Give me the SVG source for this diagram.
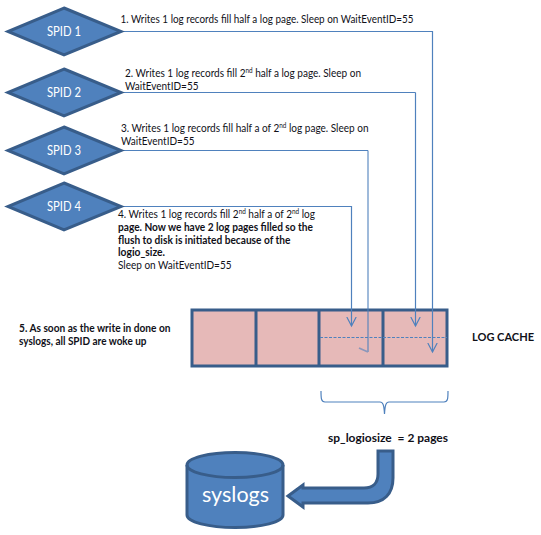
<svg xmlns="http://www.w3.org/2000/svg" width="541" height="535" viewBox="0 0 541 535">
<defs>
<style>
text{font-family:Lato,"Liberation Sans",sans-serif;font-size:11px;fill:#101018}
.b{font-weight:bold}
.d{fill:#4f81bd;stroke:#385d8a;stroke-width:3}
.n{fill:#fff;font-size:12.5px}
.c{fill:none;stroke:#4f81bd;stroke-width:1.200}
.p{fill:#e6b9b8;stroke:#385d8a;stroke-width:3}
.s{font-size:7px}
</style>
<marker id="a" markerWidth="12" markerHeight="12" refX="9" refY="5" orient="auto" markerUnits="userSpaceOnUse"><path d="M0 .3L9 5L0 9.700" fill="none" stroke="#4f81bd" stroke-width="1.200"/></marker>
</defs>
<rect width="541" height="535" fill="#fff"/>
<g id="log-cache">
<rect class="p" x="192" y="310" width="255" height="56"/>
<path d="M256 310V366M319 310V366M383 310V366" fill="none" stroke="#385d8a" stroke-width="3"/>
<path d="M320 337.500H447" fill="none" stroke="#4f81bd" stroke-width="1" stroke-dasharray="3 1.500"/>
</g>
<g id="connectors">
<path class="c" d="M121 31.500H432.500V352" marker-end="url(#a)"/>
<path class="c" d="M121 92.500H415.500" /><path class="c" d="M415.500 92.500V326" marker-end="url(#a)"/>
<path class="c" d="M121 150.500H368"/>
<path class="c" d="M368 150.500V352M359 348L368 352" style="stroke-width:1.800;stroke-opacity:.6"/>
<path class="c" d="M121 206.500H351.500V326" marker-end="url(#a)"/>
</g>
<g id="spid1"><polygon class="d" points="64,8 121,31.500 64,55 8,31.500"/><text class="n" x="47" y="35.500" textLength="34" lengthAdjust="spacingAndGlyphs">SPID 1</text></g>
<g id="spid2"><polygon class="d" points="64,69 121,92.500 64,116 8,92.500"/><text class="n" x="47" y="96.500" textLength="34" lengthAdjust="spacingAndGlyphs">SPID 2</text></g>
<g id="spid3"><polygon class="d" points="64,127 121,150.500 64,174 8,150.500"/><text class="n" x="47" y="154.500" textLength="34" lengthAdjust="spacingAndGlyphs">SPID 3</text></g>
<g id="spid4"><polygon class="d" points="64,183 121,206.500 64,230 8,206.500"/><text class="n" x="47" y="210.500" textLength="34" lengthAdjust="spacingAndGlyphs">SPID 4</text></g>
<g id="labels">
<text x="120.500" y="23" textLength="293" lengthAdjust="spacingAndGlyphs">1. Writes 1 log records fill half a log page. Sleep on WaitEventID=55</text>
<text x="125" y="76.500" textLength="236" lengthAdjust="spacingAndGlyphs">2. Writes 1 log records fill 2<tspan class="s" dy="-3.500">nd</tspan><tspan dy="3.500"> half a log page. Sleep on</tspan></text>
<text x="125" y="89.500" textLength="73.500" lengthAdjust="spacingAndGlyphs">WaitEventID=55</text>
<text x="121" y="131.500" textLength="247.500" lengthAdjust="spacingAndGlyphs">3. Writes 1 log records fill half a of 2<tspan class="s" dy="-3.500">nd</tspan><tspan dy="3.500"> log page. Sleep on</tspan></text>
<text x="121" y="144.500" textLength="73.500" lengthAdjust="spacingAndGlyphs">WaitEventID=55</text>
<text x="118" y="217.500" textLength="197" lengthAdjust="spacingAndGlyphs">4. Writes 1 log records fill 2<tspan class="s" dy="-3.500">nd</tspan><tspan dy="3.500"> half a of 2</tspan><tspan class="s" dy="-3.500">nd</tspan><tspan dy="3.500"> log</tspan></text>
<text x="118" y="230.500" class="b" textLength="195" lengthAdjust="spacingAndGlyphs">page. Now we have 2 log pages filled so the</text>
<text x="118" y="243.500" class="b" textLength="172.500" lengthAdjust="spacingAndGlyphs">flush to disk is initiated because of the</text>
<text x="118" y="255.500" class="b" textLength="47" lengthAdjust="spacingAndGlyphs">logio_size.</text>
<text x="118" y="268.500" textLength="113.500" lengthAdjust="spacingAndGlyphs">Sleep on WaitEventID=55</text>
<text x="19" y="332" class="b" textLength="151.500" lengthAdjust="spacingAndGlyphs">5. As soon as the write in done on</text>
<text x="19" y="345" class="b" textLength="127.500" lengthAdjust="spacingAndGlyphs">syslogs, all SPID are woke up</text>
<text x="472" y="341" class="b" textLength="62" lengthAdjust="spacingAndGlyphs">LOG CACHE</text>
<text x="328" y="442" class="b" textLength="120" lengthAdjust="spacingAndGlyphs" style="white-space:pre">sp_logiosize  = 2 pages</text>
</g>
<g id="brace"><path d="M321 391C321 398 321 402 325 402H380C383 402 384 405 384.500 414C385 405 386 402 389 402H444C448 402 448 398 448 391" fill="none" stroke="#4f81bd" stroke-width="1.200"/></g>
<g id="bent-arrow"><path class="d" d="M393 451V478C393 494 384 503 368 503H303V507L288 496L303 485V488H364C373 488 378 483 378 474V451Z"/></g>
<g id="syslogs">
<path class="d" d="M187 465A48 12.500 0 0 1 283 465V515A48 12.500 0 0 1 187 515Z"/>
<path d="M187 465A48 12.500 0 0 0 283 465" fill="none" stroke="#385d8a" stroke-width="3"/>
<text x="202" y="502" textLength="67" lengthAdjust="spacingAndGlyphs" style="fill:#fff;font-size:22px">syslogs</text>
</g>
</svg>
